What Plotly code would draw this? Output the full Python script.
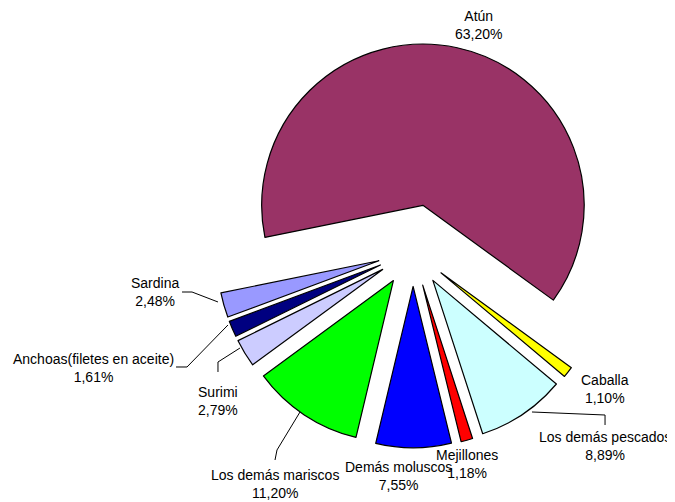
import plotly.graph_objects as go

# datos del gráfico (porcentajes por producto)
labels = ["Atún", "Caballa", "Los demás pescados", "Mejillones", "Demás moluscos",
          "Los demás mariscos", "Surimi", "Anchoas(filetes en aceite)", "Sardina"]
values = [63.20, 1.10, 8.89, 1.18, 7.55, 11.20, 2.79, 1.61, 2.48]
colors = ["#993366", "#FFFF00", "#CCFFFF", "#FF0000", "#0000FF",
          "#00FF00", "#CCCCFF", "#000080", "#9999FF"]

# la página añade 8px de margen al body: la figura ocupa el resto de la ventana
OFF = 8
W, H = 675 - OFF, 502 - OFF


def pp(x, y):
    """pixel de la ventana -> paper"""
    return (x - OFF) / W, 1 - (y - OFF) / H


# posiciones de las etiquetas (centro del texto, en pixeles de la ventana)
label_pos = [(478, 25), (605, 389), (605, 446), (467, 464), (398, 476),
             (275, 484), (218, 401), (93, 368), (155, 292)]

# líneas guía (polilíneas en pixeles de la ventana)
leaders = [
    [(182, 292), (192, 292), (218, 302)],
    [(176, 367), (187, 367), (228, 325)],
    [(218, 372), (218, 362), (240, 348)],
    [(275, 460), (277, 450), (300, 412)],
    [(605, 425), (605, 415), (532, 412)],
]

# caja del pie (centro 413,251 ; semi-lado 208)
x0, y1 = pp(413 - 208, 251 - 208)
x1, y0 = pp(413 + 208, 251 + 208)

fig = go.Figure()
fig.add_trace(go.Pie(
    labels=labels,
    values=values,
    sort=False,
    direction="clockwise",
    rotation=-101.5,
    pull=[0.29] + [0.22] * (len(values) - 1),
    marker=dict(colors=colors, line=dict(color="black", width=1.2)),
    textinfo="none",
    hoverinfo="label+percent",
    showlegend=False,
    domain=dict(x=[x0, x1], y=[y0, y1]),
))

annotations = []
for lab, v, (x, y) in zip(labels, values, label_pos):
    xp, yp = pp(x, y)
    annotations.append(dict(
        x=xp, y=yp, xref="paper", yref="paper",
        text=f"{lab}<br>{v:.2f}".replace(".", ",") + "%",
        showarrow=False, xanchor="center", yanchor="middle",
        font=dict(family="Liberation Sans, Arial", size=14, color="black"),
    ))

shapes = []
for pts in leaders:
    path = ""
    for i, (x, y) in enumerate(pts):
        xp, yp = pp(x, y)
        path += ("M" if i == 0 else " L") + f" {xp:.4f},{yp:.4f}"
    shapes.append(dict(type="path", xref="paper", yref="paper", path=path,
                       line=dict(color="black", width=1)))

fig.update_layout(
    width=W, height=H,
    margin=dict(l=0, r=0, t=0, b=0),
    paper_bgcolor="white",
    plot_bgcolor="white",
    annotations=annotations,
    shapes=shapes,
)

fig.write_html("out.html")
